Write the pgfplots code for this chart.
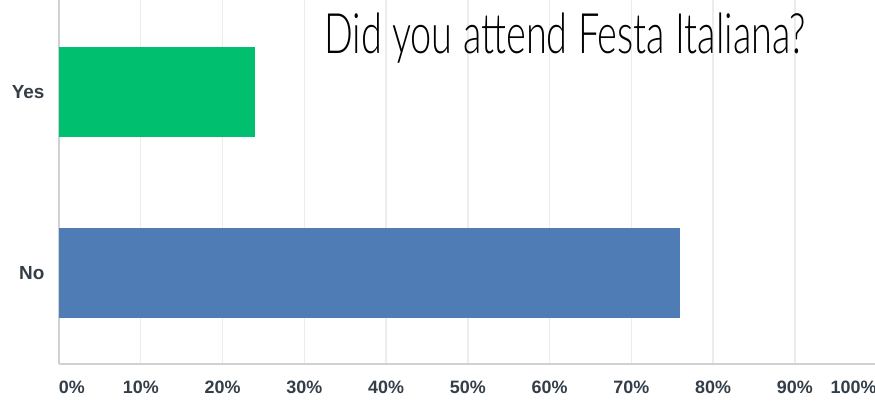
\documentclass[border=0pt]{standalone}
\usepackage{pgfplots}
\pgfplotsset{compat=1.18}
\usepackage{fontspec}
\setmainfont{Liberation Sans}
\newfontfamily\titlefont[FakeStretch=0.68]{Lato Light}
\definecolor{ygreen}{HTML}{00BF6F}
\definecolor{nblue}{HTML}{507CB6}
\definecolor{gridc}{HTML}{EBECEC}
\definecolor{axc}{HTML}{CFD1D2}
\definecolor{tickc}{HTML}{333E48}
\begin{document}
\begin{tikzpicture}
\begin{axis}[
  at={(0,0)}, anchor=south west,
  scale only axis,
  width=817.6bp, height=364bp,
  xbar, bar width=0.5, bar shift=0pt,
  xmin=0, xmax=100,
  ymin=-0.503, ymax=1.508,
  ytick={0,1}, yticklabels={No,Yes},
  xtick={0,10,20,30,40,50,60,70,80,90,100},
  xticklabels={\makebox[0pt][l]{0\%},10\%,20\%,30\%,40\%,50\%,60\%,70\%,80\%,90\%,\makebox[0pt][r]{\hspace*{-2bp}100\%}},
  xmajorgrids, major grid style={gridc, line width=1.4pt},
  axis line style={axc, line width=1.2pt},
  axis x line*=bottom, axis y line*=left,
  major tick length=0pt,
  tick style={draw=none},
  xticklabel style={font=\fontsize{18}{21}\selectfont\bfseries, text=tickc, yshift=-13bp},
  yticklabel style={font=\fontsize{19}{22}\selectfont\bfseries, text=tickc, xshift=-11bp},
  clip=false,
]
\addplot[fill=nblue, draw=none] coordinates {(76,0)};
\addplot[fill=ygreen, draw=none] coordinates {(24,1)};
\node[font=\titlefont\fontsize{56}{62}\selectfont, anchor=center] at (rel axis cs:0.619,0.895) {Did you attend Festa Italiana?};
\end{axis}
\pgfresetboundingbox
\path (-59bp,-40bp) rectangle (816bp,364bp);
\end{tikzpicture}
\end{document}
